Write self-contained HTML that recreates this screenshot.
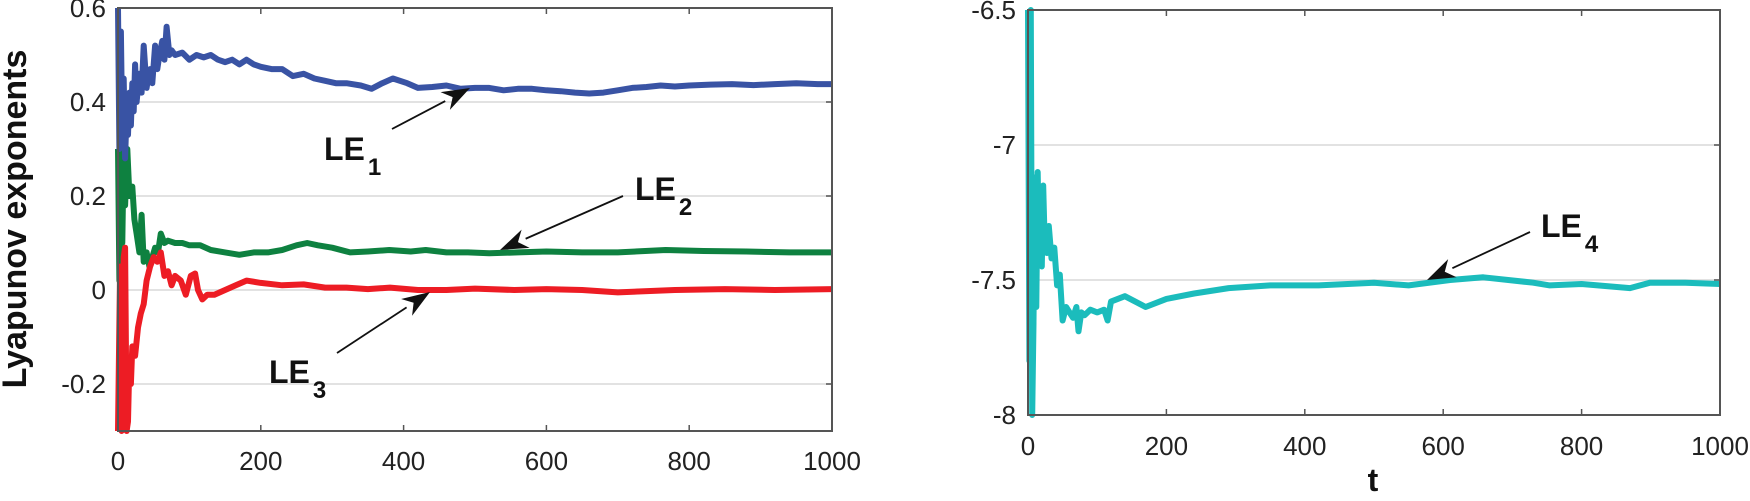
<!DOCTYPE html>
<html><head><meta charset="utf-8"><style>
html,body{margin:0;padding:0;background:#fff;}
svg{display:block;font-family:"Liberation Sans",Arial,sans-serif;}
</style></head><body>
<svg id="chart" width="1750" height="501" viewBox="0 0 1750 501">
<g id="left"></g>
<g id="right"></g>
</svg>
<script>
const le1T=[0,2,4,6,8,10,12,14,16,18,20,22,24,26,28,30,33,36,40,42,45,48,52,55,58,62,65,68,72,75,80,90,100,110,120,130,140,150,160,170,180,190,200,215,230,245,260,275,290,305,320,340,355,370,385,405,420,440,460,480,500,520,540,560,580,600,620,640,660,680,700,720,740,760,780,800,830,860,890,920,950,980,1000];
const le1V=[0.6,0.3,0.55,0.32,0.45,0.28,0.38,0.33,0.42,0.35,0.44,0.38,0.48,0.40,0.43,0.46,0.42,0.52,0.43,0.45,0.47,0.44,0.52,0.47,0.5,0.53,0.49,0.56,0.5,0.51,0.5,0.505,0.49,0.5,0.495,0.5,0.49,0.485,0.49,0.48,0.49,0.48,0.475,0.47,0.47,0.455,0.46,0.45,0.445,0.44,0.44,0.435,0.428,0.44,0.45,0.44,0.43,0.432,0.435,0.428,0.43,0.43,0.425,0.428,0.428,0.425,0.423,0.42,0.418,0.42,0.425,0.43,0.432,0.435,0.433,0.435,0.437,0.438,0.436,0.438,0.44,0.438,0.438];
const le2T=[0,2,4,6,8,10,13,16,20,23,26,30,33,36,40,44,48,52,56,60,65,70,80,90,100,115,130,150,170,190,210,230,250,265,280,300,325,350,380,410,431,460,490,520,560,600,650,700,767,820,880,940,1000];
const le2V=[0.3,0.02,0.28,0.1,0.3,0.18,0.3,0.2,0.22,0.15,0.12,0.08,0.16,0.06,0.08,0.05,0.07,0.09,0.08,0.12,0.1,0.105,0.1,0.1,0.095,0.095,0.085,0.08,0.075,0.08,0.08,0.085,0.095,0.1,0.095,0.09,0.08,0.082,0.085,0.082,0.085,0.08,0.08,0.078,0.08,0.082,0.08,0.08,0.085,0.083,0.082,0.08,0.08];
const le3T=[0,3,5,8,10,12,14,16,18,20,24,28,32,36,40,45,50,55,60,65,70,75,80,88,95,102,108,112,118,125,135,150,165,180,200,230,260,290,320,350,381,420,460,500,555,600,650,700,780,850,920,1000];
const le3V=[-0.3,0.05,-0.3,0.07,0.09,-0.3,-0.28,-0.15,-0.2,-0.12,-0.14,-0.08,-0.05,-0.03,0.02,0.05,0.07,0.06,0.08,0.03,0.04,0.01,0.03,0.02,-0.01,0.03,0.035,0.0,-0.02,-0.01,-0.01,0.0,0.01,0.02,0.015,0.01,0.012,0.005,0.005,0.002,0.005,0.0,0.0,0.003,0.0,0.002,0.0,-0.005,0.0,0.002,0.0,0.002];
const le4T=[0,2,4,6,8,10,12,14,16,18,20,22,24,27,30,34,38,42,46,50,55,60,65,70,73,77,82,90,100,110,115,120,140,170,200,240,290,350,420,500,550,610,658,730,754,800,870,899,950,1000];
const le4V=[-6.5,-7.8,-6.5,-8,-7.66,-7.12,-7.6,-7.1,-7.4,-7.2,-7.45,-7.15,-7.35,-7.4,-7.3,-7.42,-7.38,-7.52,-7.48,-7.65,-7.6,-7.62,-7.64,-7.6,-7.69,-7.62,-7.63,-7.61,-7.62,-7.61,-7.65,-7.58,-7.56,-7.6,-7.57,-7.55,-7.53,-7.52,-7.52,-7.51,-7.52,-7.5,-7.49,-7.51,-7.52,-7.515,-7.53,-7.51,-7.51,-7.515];
const xTicks=[0,200,400,600,800,1000];
const leftYTicks=[-0.2,0,0.2,0.4,0.6];
const leftYLabels=["-0.2","0","0.2","0.4","0.6"];
const rightYTicks=[-8,-7.5,-7,-6.5];
const rightYLabels=["-8","-7.5","-7","-6.5"];

const NS="http://www.w3.org/2000/svg";
function mk(parent,tag,attrs,text){const e=document.createElementNS(NS,tag);for(const k in attrs)e.setAttribute(k,attrs[k]);if(text!==undefined)e.textContent=text;parent.appendChild(e);return e;}

function panel(g,box,xDom,yDom,yTicks,yLabels,xLabelY,series,name){
  const sx=t=>box.x0+(t-xDom[0])/(xDom[1]-xDom[0])*(box.x1-box.x0);
  const sy=v=>box.y1-(v-yDom[0])/(yDom[1]-yDom[0])*(box.y1-box.y0);
  yTicks.forEach((v,i)=>{
    if(v!==yDom[0]&&v!==yDom[1]){const gl=mk(g,'line',{x1:box.x0,x2:box.x1,y1:sy(v),y2:sy(v),stroke:'#e2e2e2','stroke-width':2});
    
    }
    const tl=mk(g,'text',{x:box.x0-12,y:sy(v)+9,'text-anchor':'end','font-size':26,fill:'#222'},yLabels[i]);
    
    
    mk(g,'line',{x1:box.x1-6,x2:box.x1,y1:sy(v),y2:sy(v),stroke:'#555','stroke-width':1.5});
    mk(g,'line',{x1:box.x0,x2:box.x0+6,y1:sy(v),y2:sy(v),stroke:'#555','stroke-width':1.5});
  });
  xTicks.forEach(t=>{
    mk(g,'line',{x1:sx(t),x2:sx(t),y1:box.y1,y2:box.y1-6,stroke:'#555','stroke-width':1.5});
    mk(g,'line',{x1:sx(t),x2:sx(t),y1:box.y0,y2:box.y0+6,stroke:'#555','stroke-width':1.5});
    const xl=mk(g,'text',{x:sx(t),y:xLabelY,'text-anchor':'middle','font-size':26,fill:'#222'},String(t));
    
    
  });
  series.forEach(s=>{
    const d=s.t.map((t,i)=>(i?'L':'M')+sx(t).toFixed(1)+' '+sy(s.v[i]).toFixed(1)).join(' ');
    const p=mk(g,'path',{d:d,fill:'none',stroke:s.c,'stroke-width':6,'stroke-linejoin':'round'});
    
    
  });
  const fr=mk(g,'rect',{x:box.x0,y:box.y0,width:box.x1-box.x0,height:box.y1-box.y0,fill:'none',stroke:'#555','stroke-width':2});
  
  
}
const L=document.getElementById('left'),R=document.getElementById('right');
panel(L,{x0:118,x1:832,y0:8,y1:431},[0,1000],[-0.3,0.6],leftYTicks,leftYLabels,470,
 [{t:le2T,v:le2V,c:'#0e8140',n:'le2-line'},{t:le3T,v:le3V,c:'#ed1c24',n:'le3-line'},{t:le1T,v:le1V,c:'#3953a4',n:'le1-line'}],'left');
panel(R,{x0:1028,x1:1720,y0:10,y1:415},[0,1000],[-8,-6.5],rightYTicks,rightYLabels,455,
 [{t:le4T,v:le4V,c:'#1bbcbc',n:'le4-line'}],'right');

function arrow(g,x1,y1,x2,y2,name){
  const a=Math.atan2(y2-y1,x2-x1),len=28,w=10;
  const bx=x2-len*Math.cos(a),by=y2-len*Math.sin(a);
  const l=mk(g,'line',{x1:x1,y1:y1,x2:bx,y2:by,stroke:'#111','stroke-width':1.8});
  
  
  const px=-Math.sin(a),py=Math.cos(a);
  const nx=x2-len*0.7*Math.cos(a),ny=y2-len*0.7*Math.sin(a);
  mk(g,'polygon',{points:`${x2},${y2} ${bx+px*w},${by+py*w} ${nx},${ny} ${bx-px*w},${by-py*w}`,fill:'#111'});
}
function label(g,x,y,sub,name){
  const t=mk(g,'text',{x:x,y:y,'font-size':32,'font-weight':'bold',fill:'#111'});
  
  
  mk(t,'tspan',{},'LE');
  mk(t,'tspan',{dx:3,dy:15,'font-size':24},sub);
}
arrow(L,392,129,470,88,'le1-arrow');
arrow(L,623,196,500,250,'le2-arrow');
arrow(L,337,353,430,292,'le3-arrow');
arrow(R,1530,232,1427,280,'le4-arrow');
label(L,324,160,'1','le1-label');
label(L,635,200,'2','le2-label');
label(L,269,383,'3','le3-label');
label(R,1541,237,'4','le4-label');

const yl=mk(L,'text',{x:0,y:0,transform:'translate(26,219) rotate(-90)','text-anchor':'middle','font-size':34,'font-weight':'bold',fill:'#111'},'Lyapunov exponents');


const xt=mk(R,'text',{x:1373,y:491,'text-anchor':'middle','font-size':32,'font-weight':'bold',fill:'#111'},'t');


</script>
</body></html>
